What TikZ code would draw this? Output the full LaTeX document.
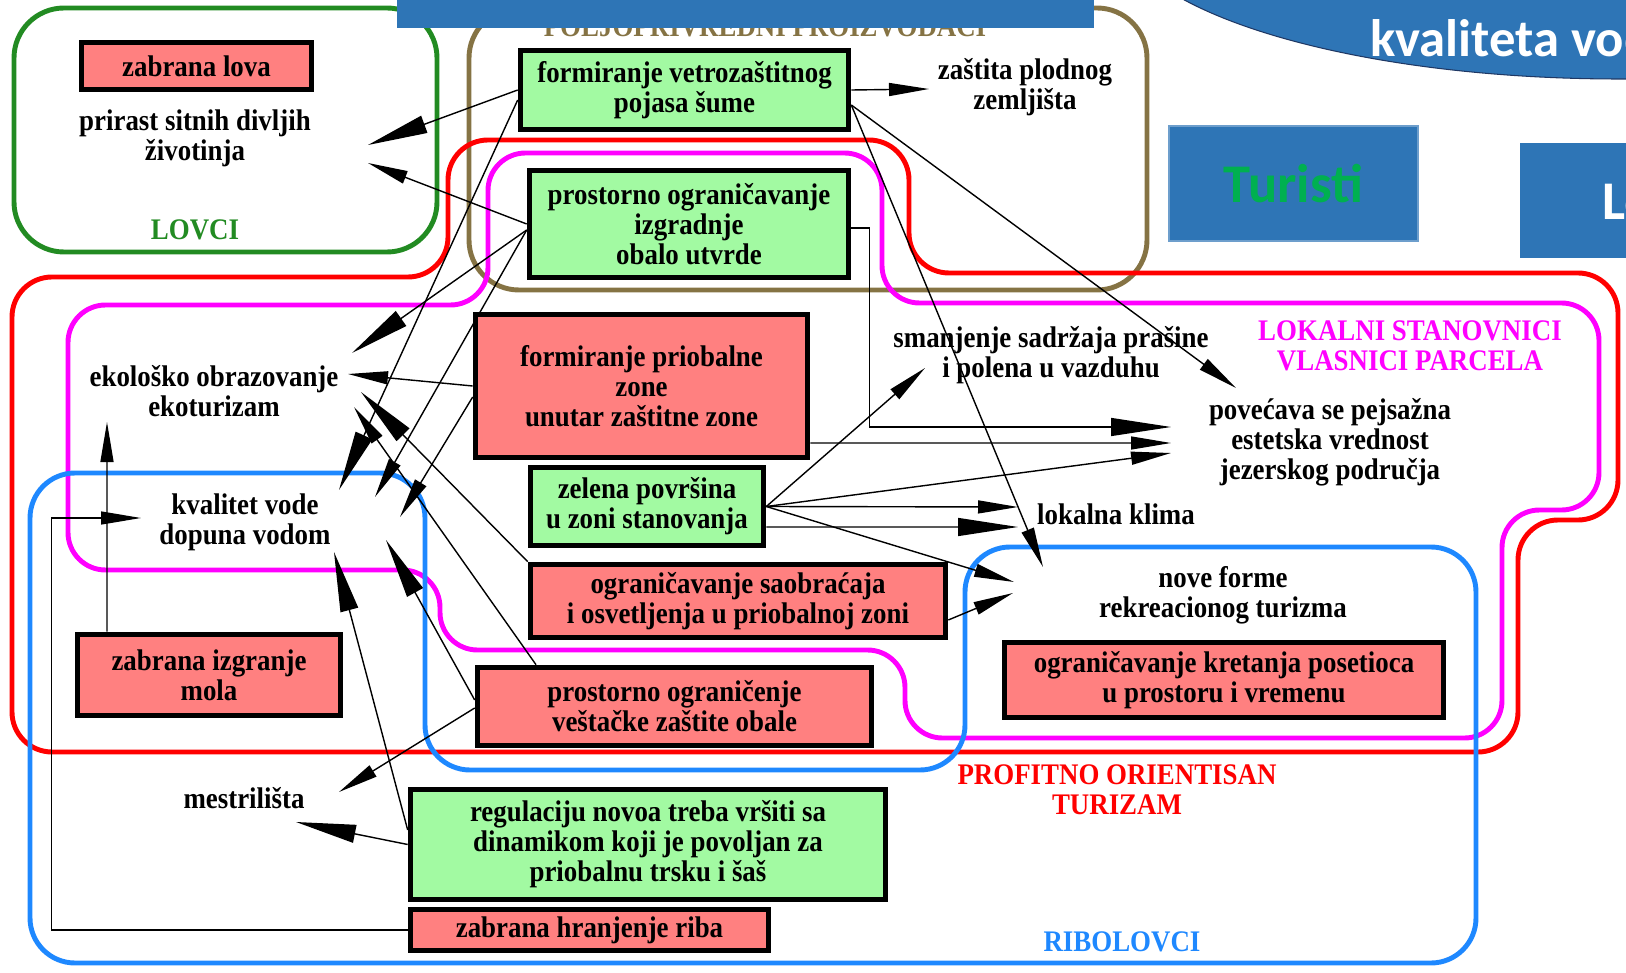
\documentclass[tikz,border=0pt]{standalone}
\usepackage{fontspec}
\setmainfont{Liberation Serif}[FakeStretch=0.9]
\newfontfamily\calibri{Carlito}
\usetikzlibrary{arrows.meta,calc}
\definecolor{jzLov}{RGB}{34,139,34}
\definecolor{jzPolj}{RGB}{133,115,68}
\definecolor{jzProf}{RGB}{255,0,0}
\definecolor{jzLok}{RGB}{255,0,255}
\definecolor{jzRib}{RGB}{30,136,255}
\definecolor{jzZel}{RGB}{162,250,162}
\definecolor{jzCrv}{RGB}{255,128,128}
\definecolor{jzPlava}{RGB}{46,117,182}
\definecolor{jzTamna}{RGB}{31,56,100}
\definecolor{jzTur}{RGB}{0,176,80}

\begin{document}
\begin{tikzpicture}[
  font=\fontsize{17}{17}\selectfont\bfseries,
  mera/.style={
    draw=black, line width=3.2pt, fill=#1, align=center, inner sep=0pt
  },
  efekat/.style={align=center, inner sep=0pt},
  grupa/.style={line width=2.8pt, rounded corners=#1},
  oznaka/.style={align=center, inner sep=0pt, font=\fontsize{17}{17}\selectfont\bfseries},
  arr/.style={-{Triangle[length=0.8cm,width=0.26cm]}, line width=0.8pt},
  arrbig/.style={-{Triangle[length=1.2cm,width=0.36cm]}, line width=0.8pt},
  slajd/.style={fill=jzPlava, font=\calibri\bfseries\fontsize{31}{31}\selectfont}
]
\useasboundingbox (0,0) rectangle (32.52,-19.46);
\clip (0,0) rectangle (32.52,-19.46);

% interest groups
\draw[grupa=1cm, draw=jzLov] (0.28,-0.16) rectangle (8.74,-5.04);
\draw[grupa=1cm, draw=jzPolj] (9.38,-0.16) rectangle (22.94,-5.8);
\draw[grupa=0.8cm, draw=jzProf] (0.24,-10) -- (0.24,-15.04) -- (30.36,-15.04)
  -- (30.36,-10.4) -- (32.36,-10.4) -- (32.36,-5.46) -- (18.18,-5.46)
  -- (18.18,-2.8) -- (8.96,-2.8) -- (8.96,-5.54) -- (0.24,-5.54) -- cycle;
\draw[grupa=0.75cm, draw=jzLok] (1.36,-8) -- (1.36,-11.4) -- (8.8,-11.4)
  -- (8.8,-13) -- (18.1,-13) -- (18.1,-14.76) -- (30.04,-14.76)
  -- (30.04,-10.2) -- (31.98,-10.2) -- (31.98,-6.06) -- (17.64,-6.06)
  -- (17.64,-3.06) -- (9.76,-3.06) -- (9.76,-6.1) -- (1.36,-6.1) -- cycle;
\draw[grupa=0.9cm, draw=jzRib] (0.6,-14) -- (0.6,-19.26) -- (29.52,-19.26)
  -- (29.52,-10.94) -- (19.3,-10.94) -- (19.3,-15.4) -- (8.5,-15.4)
  -- (8.5,-9.46) -- (0.6,-9.46) -- cycle;

\node[oznaka, text=jzLov] (lblLovci) at (3.9,-4.6) {LOVCI};
\node[oznaka, text=jzPolj, anchor=base] (lblPolj) at (15.3,-0.74) {POLJOPRIVREDNI PROIZVOĐAČI};
\node[oznaka, text=jzLok] (lblLok) at (28.2,-6.91) {LOKALNI STANOVNICI\\VLASNICI PARCELA};
\node[oznaka, text=jzProf] (lblProf) at (22.34,-15.8) {PROFITNO ORIENTISAN\\TURIZAM};
\node[oznaka, text=jzRib] (lblRib) at (22.44,-18.84) {RIBOLOVCI};

% measures
\node[mera=jzCrv, minimum width=4.6cm, minimum height=0.94cm] (lova) at (3.93,-1.32) {zabrana lova};
\node[mera=jzZel, minimum width=6.56cm, minimum height=1.58cm] (vetro) at (13.69,-1.8)
  {formiranje vetrozaštitnog\\pojasa šume};
\node[mera=jzZel, minimum width=6.38cm, minimum height=2.14cm] (izgr) at (13.78,-4.48)
  {prostorno ograničavanje\\izgradnje\\obalo utvrde};
\node[mera=jzCrv, minimum width=6.64cm, minimum height=2.86cm] (pzona) at (12.83,-7.72)
  {formiranje priobalne\\zone\\unutar zaštitne zone};
\node[mera=jzZel, minimum width=4.66cm, minimum height=1.56cm] (zelena) at (12.94,-10.13)
  {zelena površina\\u zoni stanovanja};
\node[mera=jzCrv, minimum width=8.3cm, minimum height=1.46cm] (saobr) at (14.76,-12.02)
  {ograničavanje saobraćaja\\i osvetljenja u priobalnoj zoni};
\node[mera=jzCrv, minimum width=7.88cm, minimum height=1.56cm] (vestacke) at (13.49,-14.13)
  {prostorno ograničenje\\veštačke zaštite obale};
\node[mera=jzZel, minimum width=9.5cm, minimum height=2.2cm] (regul) at (12.96,-16.89)
  {regulaciju novoa treba vršiti sa\\dinamikom koji je povoljan za\\priobalnu trsku i šaš};
\node[mera=jzCrv, minimum width=7.16cm, minimum height=0.82cm] (riba) at (11.79,-18.6)
  {zabrana hranjenje riba};
\node[mera=jzCrv, minimum width=5.26cm, minimum height=1.62cm] (mola) at (4.18,-13.5)
  {zabrana izgranje\\mola};
\node[mera=jzCrv, minimum width=8.78cm, minimum height=1.5cm] (kretanja) at (24.48,-13.6)
  {ograničavanje kretanja posetioca\\u prostoru i vremenu};

% effects
\node[efekat] (prirast) at (3.9,-2.76) {prirast sitnih divljih\\životinja};
\node[efekat] (zastita) at (20.5,-1.74) {zaštita plodnog\\zemljišta};
\node[efekat] (ekol) at (4.28,-7.82) {ekološko obrazovanje\\ekoturizam};
\node[efekat] (kval) at (4.9,-10.44) {kvalitet vode\\dopuna vodom};
\node[efekat] (mest) at (4.88,-15.96) {mestrilišta};
\node[efekat] (smanj) at (21.02,-7.1) {smanjenje sadržaja prašine\\i polena u vazduhu};
\node[efekat] (povec) at (26.6,-8.84) {povećava se pejsažna\\estetska vrednost\\jezerskog područja};
\node[efekat] (klima) at (22.32,-10.28) {lokalna klima};
\node[efekat] (nove) at (24.46,-11.9) {nove forme\\rekreacionog turizma};

% links
\draw[arrbig] (vetro.west) -- ($(prirast)+(3.46,-0.14)$);
\draw[arr] (izgr.west) -- ($(prirast)+(3.46,-0.5)$);
\draw[arr] (vetro.east) -- ($(zastita)+(-1.92,-0.04)$);
\draw[arr] ([yshift=-0.3cm]vetro.east) -- ($(povec)+(-1.88,1.08)$);
\draw[arr] ([yshift=-0.3cm]vetro.east) -- ($(nove)+(-3.6,0.56)$);
\draw[arrbig] ([yshift=-0.08cm]izgr.east) -- ++(0.36,0) |- ($(povec)+(-3.18,0.3)$);
\draw[arr] ([yshift=-1.14cm]pzona.east) -- ($(povec)+(-3.18,-0.02)$);
\draw[arr] (zelena.east) -- ($(povec)+(-3.18,-0.22)$);
\draw[arr] (zelena.east) -- ($(smanj)+(-2.52,-0.26)$);
\draw[arr] (zelena.east) -- ($(klima)+(-1.96,0.14)$);
\draw[arrbig] ([yshift=-0.41cm]zelena.east) -- ($(klima)+(-1.96,-0.26)$);
\draw[arr] (zelena.east) -- ($(nove)+(-4.18,0.26)$);
\draw[arr] ([yshift=-0.38cm]saobr.east) -- ($(nove)+(-4.2,0.04)$);

\draw[arr] (pzona.west) -- ($(ekol)+(2.68,0.34)$);
\draw[arrbig] ([yshift=-0.12cm]izgr.west) -- ($(ekol)+(2.76,0.76)$);
\draw[arrbig] ([yshift=-0.2cm]vetro.west) -- ($(kval)+(1.88,0.64)$);
\draw[arr] ([yshift=-0.12cm]izgr.west) -- ($(kval)+(2.6,0.5)$);
\draw[arr] ([yshift=-0.22cm]pzona.west) -- ($(kval)+(3.1,0.1)$);
\draw[arrbig] (saobr.north west) -- ($(ekol)+(2.94,-0.02)$);
\draw[arr] ([xshift=-2.77cm]vestacke.north) -- ($(ekol)+(2.8,-0.32)$);
\draw[arrbig] ([yshift=0.29cm]regul.west) -- ($(kval)+(1.78,-0.6)$);
\draw[arrbig] ([yshift=0.13cm]vestacke.west) -- ($(kval)+(2.82,-0.36)$);
\draw[arr] ([yshift=-0.03cm]vestacke.west) -- ($(mest)+(1.9,0.12)$);
\draw[arrbig] (regul.west) -- ($(mest)+(1.04,-0.48)$);
\draw[arr] ([xshift=-2.04cm]mola.north) -- ($(ekol)+(-2.14,-0.62)$);
\draw[arr] (riba.west) -- ++(-7.12,0) |- ($(kval)+(-2.08,0.08)$);

% slide pieces over the diagram
\fill[jzPlava] (7.94,0.1) rectangle (21.88,-0.56);
\draw[fill=jzPlava, draw=jzTamna, line width=0.6pt] (32.4,1.62) ellipse [x radius=10.1cm, y radius=3.2cm];
\node[anchor=base west, text=white, inner sep=0pt, font=\calibri\bfseries\fontsize{30}{30}\selectfont]
  (naslov) at (27.4,-1.14) {kvaliteta vode};
\node[slajd, text=jzTur, draw=jzPlava!70!white, line width=0.6pt,
      minimum width=4.98cm, minimum height=2.3cm] (turisti) at (25.87,-3.67) {Turisti};
\node[slajd, text=white, anchor=north west, minimum height=2.3cm, inner xsep=1.64cm]
  (lokalni) at (30.4,-2.86) {Lokalni};

\end{tikzpicture}
\end{document}
